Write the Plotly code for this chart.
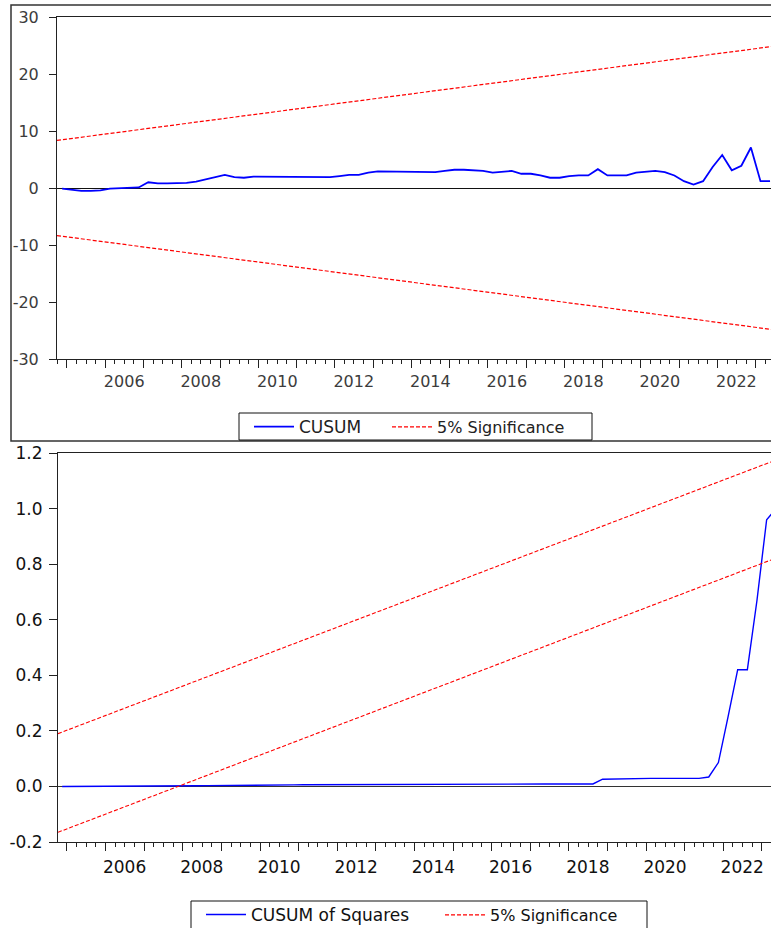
import plotly.graph_objects as go

# ---------------- data ----------------
# quarterly sample 2004Q4 .. 2023Q2
quarters = []
for yr in range(2004, 2024):
    for q in range(1, 5):
        if (yr == 2004 and q < 4) or (yr == 2023 and q > 2):
            continue
        quarters.append(f"{yr}Q{q}")

cusum = [
    -0.1,                    # 2004Q4
    -0.3, -0.5, -0.5, -0.4,  # 2005
    -0.1, 0.0, 0.0, 0.1,     # 2006
    1.0, 0.8, 0.8, 0.8,      # 2007
    0.9, 1.1, 1.5, 1.9,      # 2008
    2.3, 1.9, 1.8, 2.0,      # 2009
    2.0, 1.9, 1.9, 1.9,      # 2010
    1.9, 1.9, 1.9, 1.9,      # 2011
    2.1, 2.3, 2.3, 2.7,      # 2012
    2.9, 2.9, 2.9, 2.9,      # 2013
    2.9, 2.8, 2.8, 3.0,      # 2014
    3.2, 3.2, 3.1, 3.0,      # 2015
    2.7, 2.9, 3.0, 2.5,      # 2016
    2.5, 2.2, 1.8, 1.8,      # 2017
    2.1, 2.2, 2.2, 3.3,      # 2018
    2.2, 2.2, 2.2, 2.7,      # 2019
    2.8, 3.0, 2.8, 2.2,      # 2020
    1.2, 0.6, 1.2, 3.7,      # 2021
    5.8, 3.1, 3.9, 7.1,      # 2022
    1.2, 1.2,                # 2023
]

cusum_sq = [
    0.0,                              # 2004Q4
    0.0, 0.0005, 0.0005, 0.0005,      # 2005
    0.001, 0.001, 0.001, 0.001,       # 2006
    0.0015, 0.0015, 0.002, 0.002,     # 2007
    0.002, 0.0025, 0.003, 0.003,      # 2008
    0.0035, 0.004, 0.004, 0.0045,     # 2009
    0.005, 0.005, 0.005, 0.0055,      # 2010
    0.006, 0.006, 0.006, 0.006,       # 2011
    0.0065, 0.0065, 0.0065, 0.0068,   # 2012
    0.007, 0.007, 0.007, 0.007,       # 2013
    0.0072, 0.0072, 0.0073, 0.0074,   # 2014
    0.0075, 0.0075, 0.0076, 0.0077,   # 2015
    0.0078, 0.008, 0.008, 0.0082,     # 2016
    0.0085, 0.0085, 0.0088, 0.009,    # 2017
    0.009, 0.009, 0.009, 0.026,       # 2018
    0.027, 0.027, 0.028, 0.029,       # 2019
    0.029, 0.029, 0.029, 0.029,       # 2020
    0.029, 0.029, 0.034, 0.086,       # 2021
    0.25, 0.42, 0.42, 0.67,           # 2022
    0.96, 1.0,                        # 2023
]

# 5% significance bounds (straight lines, end points)
sig_top_x = [2004.74, 2023.40]
sig_top_upper = [8.35, 24.8]
sig_top_lower = [-8.35, -24.8]

sig_bot_x = [2004.767, 2023.238]
sig_bot_upper = [0.19, 1.168]
sig_bot_lower = [-0.165, 0.815]

year_ticks = list(range(2005, 2024))
year_labels = [str(y) if y % 2 == 0 else "" for y in year_ticks]
top_yticks = [-30, -20, -10, 0, 10, 20, 30]
top_ylabels = ["-30", "-20", "-10", "0", "10", "20", "30"]
bot_yticks = [-0.2, 0.0, 0.2, 0.4, 0.6, 0.8, 1.0, 1.2]
bot_ylabels = ["-0.2", "0.0", "0.2", "0.4", "0.6", "0.8", "1.0", "1.2"]

# quarter -> position on the time axis (middle of the quarter)
qx = [int(s[:4]) + (int(s[5]) - 0.5) / 4 for s in quarters]

# ---------------- figure ----------------
W, H = 771, 928
BLUE = "#0000FF"
RED = "#FF0000"
FONT = "DejaVu Sans"

fig = go.Figure()
fig.add_trace(go.Scatter(x=qx, y=cusum, mode="lines", name="CUSUM",
                         line=dict(color=BLUE, width=1.8),
                         xaxis="x", yaxis="y", legend="legend"))
fig.add_trace(go.Scatter(x=sig_top_x, y=sig_top_upper, mode="lines", name="5% Significance",
                         line=dict(color=RED, width=1.2, dash="4px,2px"),
                         xaxis="x", yaxis="y", legend="legend3"))
fig.add_trace(go.Scatter(x=sig_top_x, y=sig_top_lower, mode="lines", name="5% Significance",
                         line=dict(color=RED, width=1.2, dash="4px,2px"), showlegend=False,
                         xaxis="x", yaxis="y"))

fig.add_trace(go.Scatter(x=qx, y=cusum_sq, mode="lines", name="CUSUM of Squares",
                         line=dict(color=BLUE, width=1.4),
                         xaxis="x2", yaxis="y2", legend="legend2"))
fig.add_trace(go.Scatter(x=sig_bot_x, y=sig_bot_upper, mode="lines", name="5% Significance",
                         line=dict(color=RED, width=1.1, dash="4px,2px"),
                         xaxis="x2", yaxis="y2", legend="legend4"))
fig.add_trace(go.Scatter(x=sig_bot_x, y=sig_bot_lower, mode="lines", name="5% Significance",
                         line=dict(color=RED, width=1.1, dash="4px,2px"), showlegend=False,
                         xaxis="x2", yaxis="y2"))


def xaxis_common(rng, shift, color, size, standoff):
    return dict(
        range=rng, showgrid=False, zeroline=False,
        showline=True, linecolor="#222", linewidth=1, mirror=True,
        ticks="outside", ticklen=8, tickcolor="#222", tickwidth=1,
        tickmode="array", tickvals=year_ticks, ticktext=year_labels,
        ticklabelshift=shift, ticklabelstandoff=standoff,
        minor=dict(dtick=0.25, tick0=2005, ticks="outside", ticklen=4,
                   tickcolor="#222", showgrid=False),
        tickfont=dict(family=FONT, size=size, color=color),
    )


xa = xaxis_common([2004.74, 2023.40], 19, "#3c3c3c", 16, 0)
xa.update(domain=[57 / W, 1], anchor="y")
xb = xaxis_common([2004.767, 2023.238], 19, "#111", 17, 2)
xb.update(domain=[58 / W, 1], anchor="y2")


def leg(x_px, y_px, color, size):
    return dict(x=x_px / W, y=1 - y_px / H, xanchor="left", yanchor="middle",
                orientation="h", borderwidth=0, bgcolor="rgba(0,0,0,0)",
                itemwidth=40,
                font=dict(family=FONT, size=size, color=color))


fig.update_layout(
    width=W, height=H,
    margin=dict(l=0, r=0, t=0, b=0, autoexpand=False),
    paper_bgcolor="white", plot_bgcolor="white",
    showlegend=True,
    xaxis=xa,
    yaxis=dict(domain=[1 - 359 / H, 1 - 17 / H], anchor="x",
               range=[-30, 30], tickmode="array", tickvals=top_yticks,
               ticktext=top_ylabels,
               showgrid=False, showline=True, linecolor="#222", linewidth=1,
               ticks="outside", ticklen=7, tickcolor="#222",
               ticklabelstandoff=7,
               zeroline=True, zerolinecolor="#111", zerolinewidth=1,
               tickfont=dict(family=FONT, size=16, color="#3c3c3c")),
    xaxis2=xb,
    yaxis2=dict(domain=[1 - 842 / H, 1 - 453 / H], anchor="x2",
                range=[-0.2, 1.2], tickmode="array", tickvals=bot_yticks,
                ticktext=bot_ylabels,
                showgrid=False, showline=True, linecolor="#222", linewidth=1,
                ticks="outside", ticklen=8, tickcolor="#222",
                ticklabelstandoff=3,
                zeroline=True, zerolinecolor="#333", zerolinewidth=1,
                tickfont=dict(family=FONT, size=17, color="#111")),
    legend=leg(249, 427, "#222", 17),
    legend3=leg(387, 427, "#222", 16),
    legend2=leg(201, 915, "#111", 17),
    legend4=leg(440, 915, "#111", 16),
    shapes=[
        dict(type="rect", xref="paper", yref="paper",
             x0=11 / W, x1=1.02, y0=1 - 441 / H, y1=1 - 5 / H,
             line=dict(color="#333", width=1.5), fillcolor="rgba(0,0,0,0)",
             layer="below"),
        dict(type="rect", xref="paper", yref="paper",
             x0=239 / W, x1=592 / W, y0=1 - 440 / H, y1=1 - 413 / H,
             line=dict(color="#111", width=1), fillcolor="white", layer="below"),
        dict(type="rect", xref="paper", yref="paper",
             x0=191 / W, x1=647 / W, y0=1 - 929 / H, y1=1 - 901 / H,
             line=dict(color="#111", width=1), fillcolor="white", layer="below"),
    ],
)

fig.write_html("out.html", config={"displayModeBar": False},
               post_script="document.body.style.margin='0';document.body.style.overflow='hidden';")
